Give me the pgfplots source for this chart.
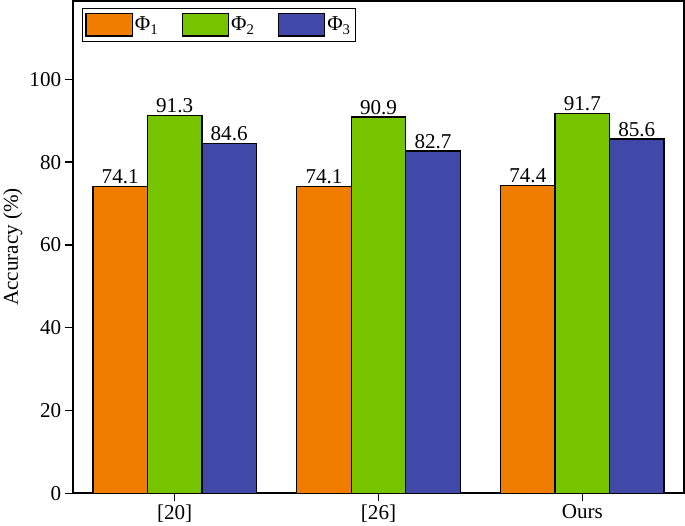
\documentclass[border=0pt]{standalone}
\usepackage{fontspec}
\setmainfont{Liberation Serif}
\usepackage{pgfplots}
\pgfplotsset{compat=1.18}
\definecolor{corange}{RGB}{240,124,0}
\definecolor{cgreen}{RGB}{118,196,0}
\definecolor{cblue}{RGB}{64,73,168}
\newcommand{\bigfs}{\fontsize{21}{25}\selectfont}
\begin{document}
\begin{tikzpicture}
\begin{axis}[
  scale only axis, width=606bp, height=488bp,
  xmin=-0.5, xmax=2.5, ymin=0, ymax=119,
  ybar=0pt, bar width=54bp,
  xtick={0,1,2}, xticklabels={[20],[26],Ours},
  ytick={0,20,...,100},
  tick align=outside, tick pos=left,
  major tick length=8bp,
  every tick/.style={black, line width=1.3bp},
  axis line style={line width=1.5bp},
  ylabel={Accuracy (\%)},
  every tick label/.append style={font=\bigfs},
  ylabel style={font=\bigfs},
  /pgf/number format/assume math mode=true,
  nodes near coords={\pgfmathprintnumber[fixed,fixed zerofill,precision=1]{\pgfplotspointmeta}},
  every node near coord/.append style={font=\bigfs, inner sep=2bp},
  legend columns=3,
  legend style={at={(0.015,0.986)}, anchor=north west, draw=black, line width=0.8bp,
    font=\bigfs, inner xsep=3bp, inner ysep=5bp,
    /tikz/every even column/.append style={column sep=21bp}},
  legend image code/.code={\draw[#1, line width=1.2bp] (0bp,-11bp) rectangle (46bp,11bp);},
]
\addplot[draw=black, line width=1.2bp, fill=corange] coordinates {(0,74.1) (1,74.1) (2,74.4)};
\addplot[draw=black, line width=1.2bp, fill=cgreen] coordinates {(0,91.3) (1,90.9) (2,91.7)};
\addplot[draw=black, line width=1.2bp, fill=cblue] coordinates {(0,84.6) (1,82.7) (2,85.6)};
\legend{Φ\textsubscript{1}, Φ\textsubscript{2}, Φ\textsubscript{3}}
\end{axis}
\end{tikzpicture}
\end{document}
